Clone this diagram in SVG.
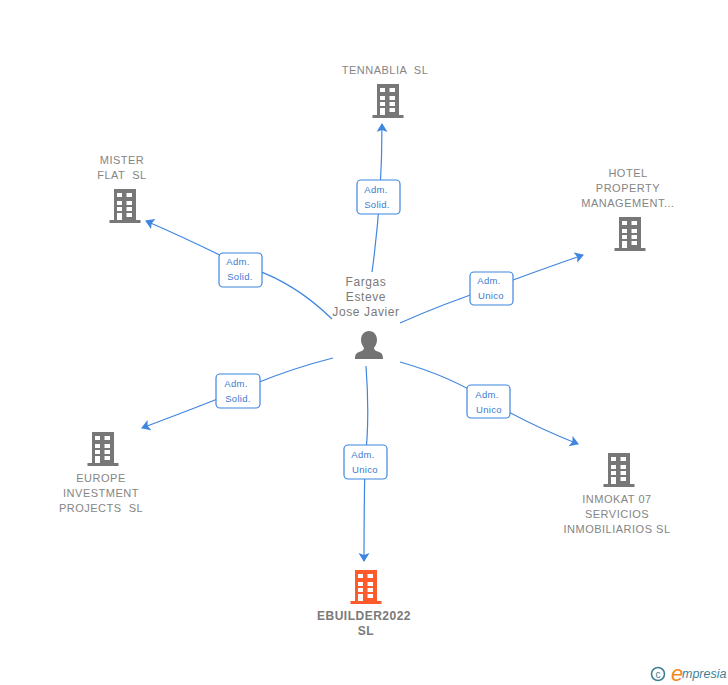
<svg xmlns="http://www.w3.org/2000/svg" width="728" height="685" viewBox="0 0 728 685">
<style>
.n{font-family:"Liberation Sans",Arial,sans-serif;font-size:11px;fill:#858585;text-anchor:middle;letter-spacing:.5px;white-space:pre}
.b{font-weight:bold;font-size:12px;fill:#7a7a7a}
.p{font-size:12px;fill:#7a7a7a;letter-spacing:.6px}
.l{font-family:"Liberation Sans",Arial,sans-serif;font-size:9.5px;fill:#3a7bd5;text-anchor:middle;letter-spacing:.3px}
.c{fill:none;stroke:#3f86e0;stroke-width:1.2;marker-end:url(#a)}
.r{fill:#fff;stroke:#3f86e0;stroke-width:1.2}
</style>
<defs>
<marker id="a" markerWidth="12" markerHeight="12" refX="8" refY="5.500" orient="auto" markerUnits="userSpaceOnUse"><path d="M0 0L9 5.500L0 11L2 5.500Z" fill="#3f86e0"/></marker>
<path id="bld" fill-rule="evenodd" d="M-11 0H11V31H15.500V34H-15.500V31H-11ZM-8 4V8H-3V4ZM1.500 4V8H7V4ZM-8 12V16H-3V12ZM1.500 12V16H7V12ZM-8 18V22H-3V18ZM1.500 18V22H7V18ZM-8 24V31H-3V24ZM1.500 24V28H7V24Z"/>
</defs>
<rect width="728" height="685" fill="#fff"/>
<g id="connectors">
<path class="c" d="M372 272Q382 200 382 124"/>
<path class="c" d="M332 319Q290 278 240 265Q190 240 146 221"/>
<path class="c" d="M400 323Q445 303 491 288Q540 270 583 255"/>
<path class="c" d="M400 362Q450 376 489 401Q530 425 578 444"/>
<path class="c" d="M366 366Q370 420 365 461Q364 510 364 561"/>
<path class="c" d="M333 358Q285 370 238 391Q190 410 142 428"/>
</g>
<g id="node-center">
<text class="n p" x="366" y="286">Fargas</text>
<text class="n p" x="366" y="301">Esteve</text>
<text class="n p" x="366" y="316">Jose Javier</text>
<path fill="#737373" d="M369 331C374 331 377 335 377 340C377 344 375 346 374 348C374 350 376 351 379 352C382 353 383 355 383 359H355C355 355 356 353 359 352C362 351 364 350 364 348C363 346 361 344 361 340C361 335 364 331 369 331Z"/>
</g>
<g id="node-tennablia"><text class="n" x="385" y="74">TENNABLIA  SL</text><use href="#bld" x="388" y="84" fill="#777"/></g>
<g id="node-mister"><text class="n" x="122" y="164">MISTER</text><text class="n" x="122" y="179">FLAT  SL</text><use href="#bld" x="125" y="189" fill="#777"/></g>
<g id="node-hotel"><text class="n" x="628" y="177">HOTEL</text><text class="n" x="628" y="192">PROPERTY</text><text class="n" x="628" y="207">MANAGEMENT...</text><use href="#bld" x="630" y="217" fill="#777"/></g>
<g id="node-europe"><use href="#bld" x="103" y="432" fill="#777"/><text class="n" x="101" y="482">EUROPE</text><text class="n" x="101" y="497">INVESTMENT</text><text class="n" x="101" y="512">PROJECTS  SL</text></g>
<g id="node-inkomat"><use href="#bld" x="619" y="453" fill="#777"/><text class="n" x="617" y="503">INMOKAT 07</text><text class="n" x="617" y="518">SERVICIOS</text><text class="n" x="617" y="533">INMOBILIARIOS SL</text></g>
<g id="node-ebuilder"><use href="#bld" x="366" y="570" fill="#ff5a2b"/><text class="n b" x="364" y="620">EBUILDER2022</text><text class="n b" x="366" y="635">SL</text></g>
<g id="label-1"><rect class="r" x="357" y="180" width="43" height="34" rx="4"/><text class="l" x="376" y="193">Adm.</text><text class="l" x="377" y="208">Solid.</text></g>
<g id="label-2"><rect class="r" x="219" y="253" width="43" height="34" rx="4"/><text class="l" x="238" y="265">Adm.</text><text class="l" x="240" y="280">Solid.</text></g>
<g id="label-3"><rect class="r" x="470" y="272" width="43" height="33" rx="4"/><text class="l" x="489" y="284">Adm.</text><text class="l" x="491" y="299">Unico</text></g>
<g id="label-4"><rect class="r" x="467" y="385" width="43" height="33" rx="4"/><text class="l" x="487" y="398">Adm.</text><text class="l" x="489" y="413">Unico</text></g>
<g id="label-5"><rect class="r" x="344" y="445" width="43" height="34" rx="4"/><text class="l" x="363" y="458">Adm.</text><text class="l" x="365" y="473">Unico</text></g>
<g id="label-6"><rect class="r" x="216" y="374" width="44" height="34" rx="4"/><text class="l" x="236" y="387">Adm.</text><text class="l" x="238" y="402">Solid.</text></g>
<g id="logo">
<circle cx="658" cy="674" r="6.500" fill="none" stroke="#3f7f93" stroke-width="1.600"/>
<text x="658" y="677.500" font-family="Liberation Sans,sans-serif" font-size="10" fill="#3f7f93" text-anchor="middle">c</text>
<text x="671" y="681" font-family="Liberation Sans,sans-serif" font-style="italic" font-size="22" fill="#f08a1d">e</text>
<text x="682" y="678" font-family="Liberation Sans,sans-serif" font-style="italic" font-size="12.500" fill="#3f7f93">mpresia</text>
</g>
</svg>
